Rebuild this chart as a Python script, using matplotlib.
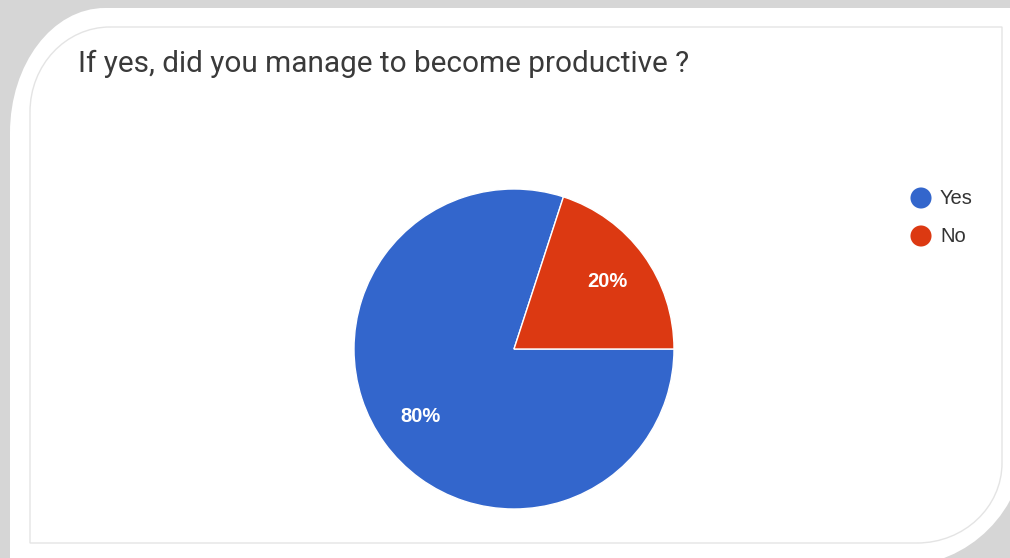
import matplotlib.pyplot as plt
from matplotlib.path import Path
from matplotlib.patches import PathPatch

labels = ['Yes', 'No']
shares = [80, 20]
colors = ['#3366cc', '#dc3912']
title = 'If yes, did you manage to become productive ?'

W, H = 1010, 558
fig = plt.figure(figsize=(W / 100, H / 100), dpi=100)
fig.patch.set_facecolor('#d6d6d6')

# frame layer in pixel coordinates (y grows downward)
bg = fig.add_axes([0, 0, 1, 1])
bg.set_xlim(0, W)
bg.set_ylim(H, 0)
bg.axis('off')

k = 0.5523


def card(x0, y0, x1, y1, r1x, r1y, r2x, r2y):
    # rectangle with a rounded top-left and bottom-right corner
    verts = [
        (x0 + r1x, y0),
        (x1, y0),
        (x1, y1 - r2y),
        (x1, y1 - r2y + k * r2y), (x1 - r2x + k * r2x, y1), (x1 - r2x, y1),
        (x0, y1),
        (x0, y0 + r1y),
        (x0, y0 + r1y - k * r1y), (x0 + r1x - k * r1x, y0), (x0 + r1x, y0),
    ]
    codes = [Path.MOVETO, Path.LINETO, Path.LINETO,
             Path.CURVE4, Path.CURVE4, Path.CURVE4,
             Path.LINETO, Path.LINETO,
             Path.CURVE4, Path.CURVE4, Path.CURVE4]
    return Path(verts, codes)


bg.add_patch(PathPatch(card(10, 8, 1025, 566, 95, 125, 125, 125),
                       facecolor='white', edgecolor='none'))
bg.add_patch(PathPatch(card(30, 27, 1002, 543, 80, 85, 85, 80),
                       facecolor='white', edgecolor='#e4e4e4', lw=1.0))

bg.text(78, 64, title, fontsize=21.4, family='Roboto', color='#3a3a3a',
        ha='left', va='center')

# legend entries
for i, (lab, col) in enumerate(zip(labels, colors)):
    y = 198 + i * 38
    bg.scatter([921], [y], s=230, color=col, edgecolors='none')
    bg.text(940, y, lab, fontsize=14.5, family='Liberation Sans',
            color='#333333', ha='left', va='center')

# pie, radius 160 px centred at (514, 349)
ax = fig.add_axes([354 / W, (H - 509) / H, 320 / W, 320 / H])
wedges, _, autotexts = ax.pie(
    shares, colors=colors, startangle=72, counterclock=True,
    autopct='%d%%', pctdistance=0.72,
    wedgeprops=dict(edgecolor='white', linewidth=1.0),
    textprops=dict(color='white', fontsize=14.5, family='Liberation Sans',
                   fontweight='bold'))
ax.set_xlim(-1, 1)
ax.set_ylim(-1, 1)
ax.set_aspect('auto')

fig.savefig('out.png', dpi=100, facecolor=fig.get_facecolor())
